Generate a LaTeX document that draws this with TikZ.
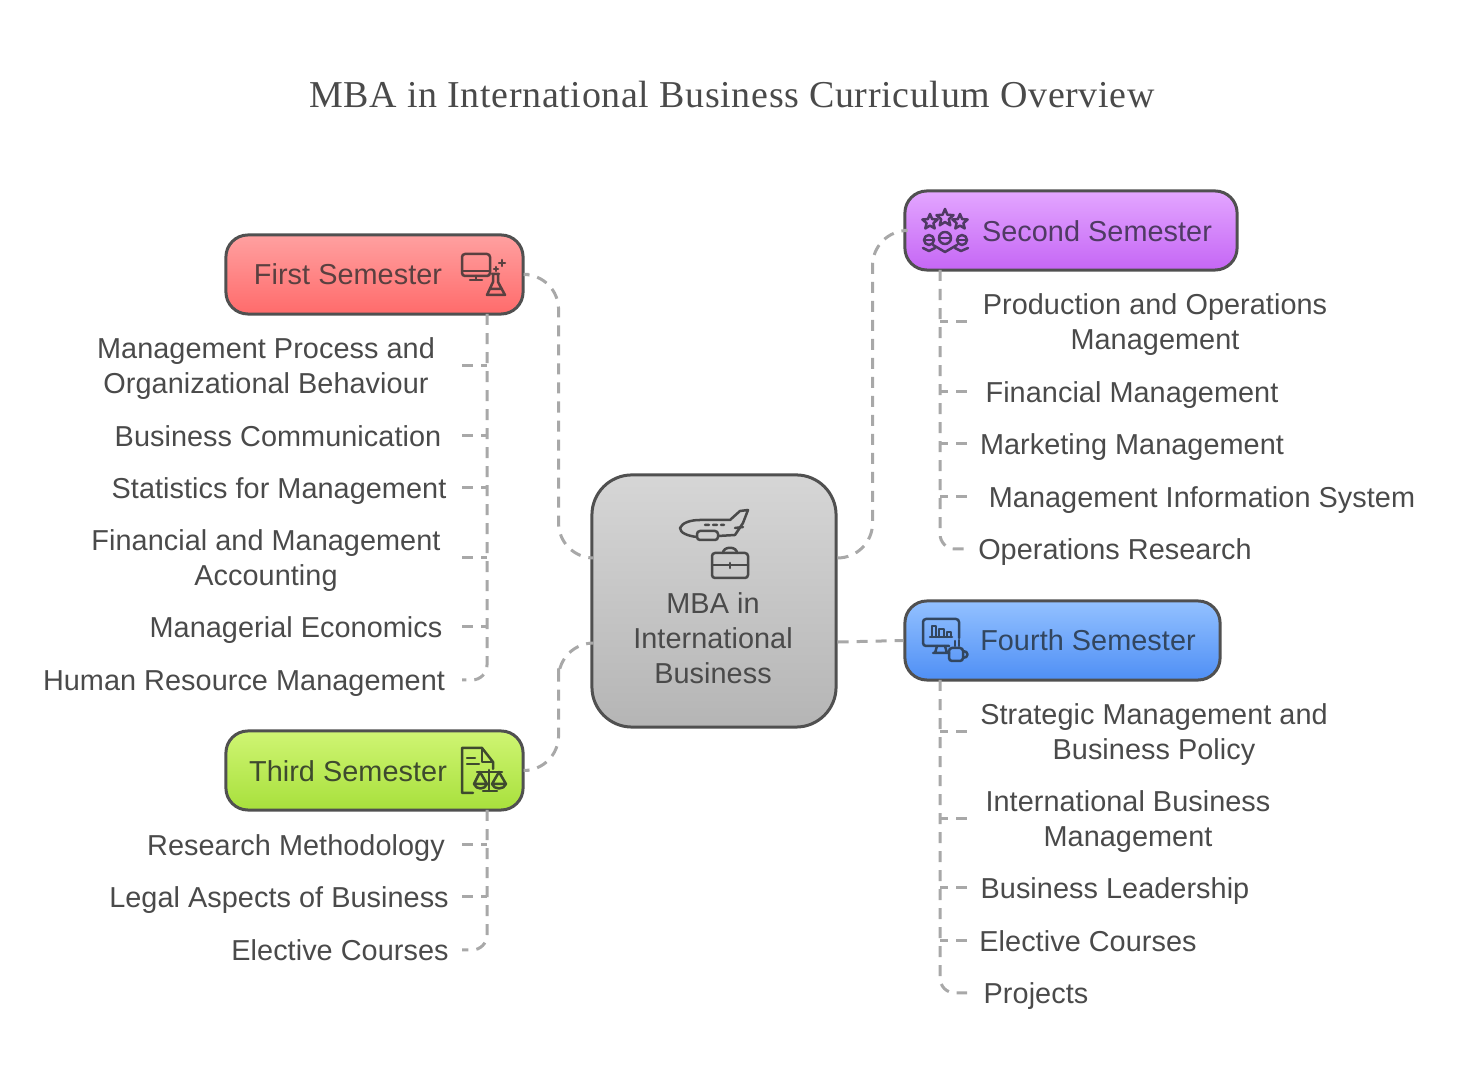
\documentclass[tikz,border=0pt]{standalone}
\usepackage{fontspec}
\setmainfont{Liberation Sans}[LetterSpace=0.2]
\newfontfamily\titlefont{Liberation Serif}[LetterSpace=1.7]
\usetikzlibrary{calc}

\definecolor{inkgray}{HTML}{4A4A4A}
\definecolor{linegray}{HTML}{A8A8A8}
\definecolor{edgegray}{HTML}{505050}
\definecolor{hubtop}{HTML}{D6D6D6}
\definecolor{hubbot}{HTML}{B5B5B5}
\definecolor{redtop}{HTML}{FFA0A0}
\definecolor{redbot}{HTML}{FF6B6B}
\definecolor{violettop}{HTML}{E3A6FF}
\definecolor{violetbot}{HTML}{C566F5}
\definecolor{greentop}{HTML}{CFF573}
\definecolor{greenbot}{HTML}{A8E03C}
\definecolor{bluetop}{HTML}{93C1FF}
\definecolor{bluebot}{HTML}{4F8FF5}
\definecolor{redink}{HTML}{5A4040}
\definecolor{violetink}{HTML}{4F3A63}
\definecolor{greenink}{HTML}{3E4A2E}
\definecolor{blueink}{HTML}{32465F}

\begin{document}
\begin{tikzpicture}[x=0.01cm,y=-0.01cm]
        \tikzstyle{box}=[draw=edgegray,line width=0.03cm,rounded corners=0.22cm,inner sep=0pt,minimum height=0.79cm]
        \tikzstyle{boxlabel}=[inner sep=0pt,font=\fontsize{8.2}{9.96}\selectfont]
        \tikzstyle{topic}=[inner sep=0pt,align=center,text=inkgray,font=\fontsize{8.2}{9.96}\selectfont]
        \tikzstyle{oneline}=[topic,text height=7.5pt,text depth=1.5pt]
        \tikzstyle{twoline}=[topic,text depth=0pt]
        \tikzstyle{link}=[draw=linegray,line width=0.03cm,dash pattern=on 0.11cm off 0.08cm]
        \tikzstyle{icon}=[line width=0.025cm,line join=round,line cap=round]
        \useasboundingbox (0,0) rectangle (1463,1080);

        \node[inner sep=0pt,text=inkgray,font=\titlefont\fontsize{10.8}{12}\selectfont] (title) at (732,95) {MBA in International Business Curriculum Overview};

        % boxes
        \node[box,minimum width=2.44cm,minimum height=2.52cm,rounded corners=0.4cm,top color=hubtop,bottom color=hubbot] (hub) at (714,601) {};
        \node[boxlabel,align=center,text=inkgray] (hublabel) at (713,638) {MBA in\\International\\Business};
        \node[box,minimum width=2.97cm,top color=redtop,bottom color=redbot] (first) at (374.5,274.5) {};
        \node[boxlabel,text=redink] (firstlabel) at (348,274) {First Semester};
        \node[box,minimum width=3.32cm,top color=violettop,bottom color=violetbot] (second) at (1071,230.5) {};
        \node[boxlabel,text=violetink] (secondlabel) at (1097,231) {Second Semester};
        \node[box,minimum width=2.97cm,top color=greentop,bottom color=greenbot] (third) at (374.5,770.5) {};
        \node[boxlabel,text=greenink] (thirdlabel) at (348,771) {Third Semester};
        \node[box,minimum width=3.15cm,top color=bluetop,bottom color=bluebot] (fourth) at (1062.5,640.5) {};
        \node[boxlabel,text=blueink] (fourthlabel) at (1088,640) {Fourth Semester};

        % first semester topics
        \node[twoline] (mgmt) at (266,366) {Management Process and\\Organizational Behaviour};
        \node[oneline] (comm) at (278,436) {Business Communication};
        \node[oneline] (stat) at (279,488) {Statistics for Management};
        \node[twoline] (acct) at (266,558) {Financial and Management\\Accounting};
        \node[oneline] (econ) at (296,627) {Managerial Economics};
        \node[oneline] (hrm) at (244,680) {Human Resource Management};
        % third semester topics
        \node[oneline] (research) at (296,845) {Research Methodology};
        \node[oneline] (legal) at (279,897) {Legal Aspects of Business};
        \node[oneline] (electa) at (340,950) {Elective Courses};
        % second semester topics
        \node[twoline] (prod) at (1155,322) {Production and Operations\\Management};
        \node[oneline] (fin) at (1132,392) {Financial Management};
        \node[oneline] (mkt) at (1132,444) {Marketing Management};
        \node[oneline] (mis) at (1202,497) {Management Information System};
        \node[oneline] (ops) at (1115,549) {Operations Research};
        % fourth semester topics
        \node[twoline] (strat) at (1154,732) {Strategic Management and\\Business Policy};
        \node[twoline] (intl) at (1128,819) {International Business\\Management};
        \node[oneline] (lead) at (1115,888) {Business Leadership};
        \node[oneline] (electb) at (1088,941) {Elective Courses};
        \node[oneline] (proj) at (1036,993) {Projects};

        % hub to semesters
        \draw[link,rounded corners=0.35cm] ([xshift=0.04cm]first.east) -| ++(30,70) |- ([yshift=0.43cm]hub.west);
        \draw[link,rounded corners=0.35cm] ([xshift=0.04cm]third.east) -| ++(30,-70) |- ([yshift=-0.42cm]hub.west);
        \draw[link,rounded corners=0.35cm] ([yshift=0.43cm]hub.east) -- ++(35,0) |- (second.west);
        \draw[link] ([yshift=-0.41cm]hub.east) -- (fourth.west);

        % semesters to topics
        \coordinate (spinea) at (487,314);
        \coordinate (spineb) at (487,810);
        \coordinate (spinec) at (940,270);
        \coordinate (spined) at (940,680);
        \coordinate (ticka) at (462,0);
        \coordinate (tickc) at (967,0);
        \draw[link,rounded corners=0.15cm] (spinea) |- (hrm.east -| ticka);
        \draw[link,rounded corners=0.15cm] (spineb) |- (electa.east -| ticka);
        \draw[link,rounded corners=0.15cm] (spinec) |- (ops.west -| tickc);
        \draw[link,rounded corners=0.15cm] (spined) |- (proj.west -| tickc);
        \foreach \topic in {mgmt,comm,stat,acct,econ,research,legal}
            \draw[link] (\topic.east -| ticka) -- (\topic.east -| spinea);
        \foreach \topic in {prod,fin,mkt,mis,strat,intl,lead,electb}
            \draw[link] (\topic.west -| tickc) -- (\topic.west -| spinec);

        % plane and briefcase
        \begin{scope}[icon,draw=inkgray]
            \draw (697,537) .. controls (688,536) and (680,533) .. (680,528) .. controls (682,523) and (690,520) .. (700,520) -- (730,520) -- (740,511) -- (748,510) -- (743,523) -- (735,535) -- (718,536);
            \draw[rounded corners=0.03cm] (697,531) rectangle (718,540);
            \draw (705,525) -- (709,525) (713,525) -- (717,525) (721,525) -- (724,525) (735,528) -- (743,527);
            \draw[rounded corners=0.03cm] (712,553) rectangle (748,578);
            \draw (712,565) -- (748,565) (730,563) -- (730,568);
            \draw (723,553) .. controls (723,546) and (737,546) .. (737,553);
        \end{scope}
        % monitor and flask
        \begin{scope}[icon,draw=redink]
            \draw[rounded corners=0.03cm] (462,254) rectangle (490,276);
            \draw (462,271) -- (490,271) (476,276) -- (476,279) (470,280) -- (482,280);
            \draw (492,274) -- (499,274) (493,274) -- (493,282) -- (487,295) -- (505,295) -- (498,282) -- (498,274) (490,289) -- (502,289);
            \draw (499,263) -- (505,263) (502,260) -- (502,266) (494,269) -- (498,269) (496,267) -- (496,271);
        \end{scope}
        % stars and people
        \begin{scope}[icon,draw=violetink]
            \foreach \cx/\cy/\rad in {945/218/9,930/222/8,960/222/8}
                \draw[shift={(\cx,\cy)}] plot[samples at={0,...,10},variable=\t] ({\t*36-90}:{\rad*(0.725+0.275*cos(180*\t))}) -- cycle;
            \foreach \cx/\cy/\rad in {929/240/5,945/238/6,962/240/5} {
                \draw (\cx,\cy) circle (\rad);
                \draw ({\cx-\rad},\cy) -- ({\cx+\rad},\cy);
            }
            \draw (933,245) -- (945,252) -- (957,245) (923,248) -- (929,251) -- (935,248) (955,248) -- (961,251) -- (968,248);
        \end{scope}
        % document and scales
        \begin{scope}[icon,draw=greenink]
            \draw (493,769) -- (493,762) -- (482,748) -- (462,748) -- (462,793) -- (473,793);
            \draw (482,748) -- (482,762) -- (493,762);
            \draw (467,758) -- (475,758) (467,764) -- (479,764);
            \draw (489,770) -- (489,791) (483,791) -- (497,791) (477,772) -- (502,772);
            \draw (480,772) -- (474,784) -- (487,784) -- cycle;
            \draw (499,772) -- (492,784) -- (506,784) -- cycle;
            \draw (474,784) .. controls (476,790) and (485,790) .. (487,784);
            \draw (492,784) .. controls (494,790) and (504,790) .. (506,784);
        \end{scope}
        % monitor and cup
        \begin{scope}[icon,draw=blueink]
            \draw[rounded corners=0.03cm] (949,646) -- (923,646) -- (923,619) -- (959,619) -- (959,638);
            \draw (937,646) -- (935,653) (945,646) -- (947,653) (933,653) -- (949,653);
            \draw (930,637) -- (952,637) (932,637) -- (932,626) -- (936,626) -- (936,637) (939,637) -- (939,629) -- (944,629) -- (944,637) (947,637) -- (947,632) -- (951,632) -- (951,637);
            \draw[rounded corners=0.03cm] (949,648) rectangle (963,661);
            \draw (963,651) .. controls (969,651) and (969,658) .. (963,658);
            \draw (955,641) -- (955,646) (959,640) -- (959,646);
        \end{scope}
\end{tikzpicture}
\end{document}
